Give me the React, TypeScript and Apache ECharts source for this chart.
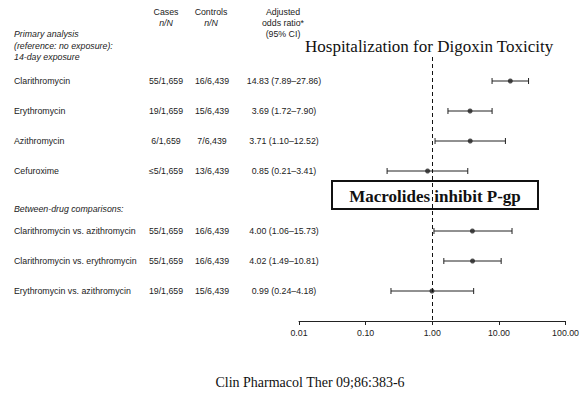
import React, { useEffect, useRef } from "react";
import * as echarts from "echarts";

const labels = [
  "Clarithromycin",
  "Erythromycin",
  "Azithromycin",
  "Cefuroxime",
  "Clarithromycin vs. azithromycin",
  "Clarithromycin vs. erythromycin",
  "Erythromycin vs. azithromycin",
];
const rows = [0, 1, 2, 3, 5, 6, 7];
const cases = ["55/1,659", "19/1,659", "6/1,659", "\u22645/1,659", "55/1,659", "55/1,659", "19/1,659"];
const controls = ["16/6,439", "15/6,439", "7/6,439", "13/6,439", "16/6,439", "16/6,439", "15/6,439"];
const est = [14.83, 3.69, 3.71, 0.85, 4.0, 4.02, 0.99];
const lo = [7.89, 1.72, 1.1, 0.21, 1.06, 1.49, 0.24];
const hi = [27.86, 7.9, 12.52, 3.41, 15.73, 10.81, 4.18];

const SANS = "Liberation Sans, Arial, sans-serif";
const SERIF = "Liberation Serif, Times New Roman, serif";
const TXT = "#222";
const FS = 8.8;

export default function App() {
  const ref = useRef<HTMLDivElement>(null);
  useEffect(() => {
    document.body.style.margin = "0";
    const chart = echarts.init(ref.current!, null, { renderer: "svg" });
    const orText = est.map(
      (e, i) => `${e.toFixed(2)} (${lo[i].toFixed(2)}\u2013${hi[i].toFixed(2)})`
    );
    const t = (x: number, y: number, text: string, align = "left", italic = false) => ({
      type: "text",
      x,
      y,
      style: {
        text,
        fill: TXT,
        font: `${italic ? "italic " : ""}${FS}px ${SANS}`,
        textAlign: align,
        textVerticalAlign: "middle",
      },
    });
    chart.setOption({
      animation: false,
      title: {
        text: "Hospitalization for Digoxin Toxicity",
        left: 305,
        top: 38,
        padding: 0,
        textStyle: { fontFamily: SERIF, fontSize: 17, fontWeight: "normal", color: "#111" },
      },
      grid: { left: 299, right: 16, top: 57, bottom: 73 },
      xAxis: {
        type: "log",
        logBase: 10,
        min: 0.01,
        max: 100,
        splitLine: { show: false },
        axisLine: { show: true, onZero: false, lineStyle: { color: "#222", width: 1 } },
        axisTick: { show: true, length: 4, lineStyle: { color: "#222" } },
        minorTick: { show: false },
        axisLabel: {
          fontFamily: SANS,
          fontSize: FS,
          color: TXT,
          margin: 7,
          formatter: (v: number) => Number(v).toFixed(2),
        },
      },
      yAxis: {
        type: "value",
        min: -0.8,
        max: 8,
        inverse: true,
        show: false,
      },
      graphic: [
        t(14, 34, "Primary analysis", "left", true),
        t(14, 46, "(reference: no exposure):", "left", true),
        t(14, 57, "14-day exposure", "left", true),
        t(166, 12, "Cases", "center"),
        t(166, 23, "n/N", "center", true),
        t(211, 12, "Controls", "center"),
        t(211, 23, "n/N", "center", true),
        t(283, 12, "Adjusted", "center"),
        t(283, 23, "odds ratio*", "center"),
        t(283, 34, "(95% CI)", "center"),
        t(14, 209, "Between-drug comparisons:", "left", true),
        {
          type: "rect",
          shape: { x: 332, y: 181, width: 206, height: 28 },
          style: { fill: "#fff", stroke: "#111", lineWidth: 2 },
        },
        {
          type: "text",
          x: 435,
          y: 196,
          style: {
            text: "Macrolides inhibit P-gp",
            fill: "#111",
            font: `bold 17px ${SERIF}`,
            textAlign: "center",
            textVerticalAlign: "middle",
          },
        },
        {
          type: "text",
          x: 310,
          y: 382,
          style: {
            text: "Clin Pharmacol Ther 09;86:383-6",
            fill: "#111",
            font: `14px ${SERIF}`,
            textAlign: "center",
            textVerticalAlign: "middle",
          },
        },
      ],
      series: [
        {
          type: "custom",
          name: "table",
          silent: true,
          clip: false,
          data: rows.map((r, i) => [1, r, i]),
          renderItem: (params: any, api: any) => {
            const i = api.value(2);
            const y = api.coord([1, api.value(1)])[1];
            const mk = (x: number, text: string, align: string) => ({
              type: "text",
              x,
              y,
              style: {
                text,
                fill: TXT,
                font: `${FS}px ${SANS}`,
                textAlign: align,
                textVerticalAlign: "middle",
              },
            });
            return {
              type: "group",
              children: [
                mk(14, labels[i], "left"),
                mk(166, cases[i], "center"),
                mk(212, controls[i], "center"),
                mk(284, orText[i], "center"),
              ],
            };
          },
        },
        {
          type: "custom",
          name: "ci",
          silent: true,
          data: rows.map((r, i) => [lo[i], hi[i], r]),
          renderItem: (params: any, api: any) => {
            const a = api.coord([api.value(0), api.value(2)]);
            const b = api.coord([api.value(1), api.value(2)]);
            const st = { stroke: "#222", lineWidth: 1 };
            const c = 3;
            return {
              type: "group",
              children: [
                { type: "line", shape: { x1: a[0], y1: a[1], x2: b[0], y2: b[1] }, style: st },
                { type: "line", shape: { x1: a[0], y1: a[1] - c, x2: a[0], y2: a[1] + c }, style: st },
                { type: "line", shape: { x1: b[0], y1: b[1] - c, x2: b[0], y2: b[1] + c }, style: st },
              ],
            };
          },
        },
        {
          type: "scatter",
          name: "est",
          symbol: "circle",
          symbolSize: 5,
          itemStyle: { color: "#222" },
          data: rows.map((r, i) => [est[i], r]),
          z: 4,
          markLine: {
            silent: true,
            symbol: "none",
            label: { show: false },
            lineStyle: { color: "#111", type: [4, 3], width: 1 },
            data: [{ xAxis: 1 }],
          },
        },
      ],
    });
    return () => chart.dispose();
  }, []);
  return <div ref={ref} style={{ width: 582, height: 394 }} />;
}
